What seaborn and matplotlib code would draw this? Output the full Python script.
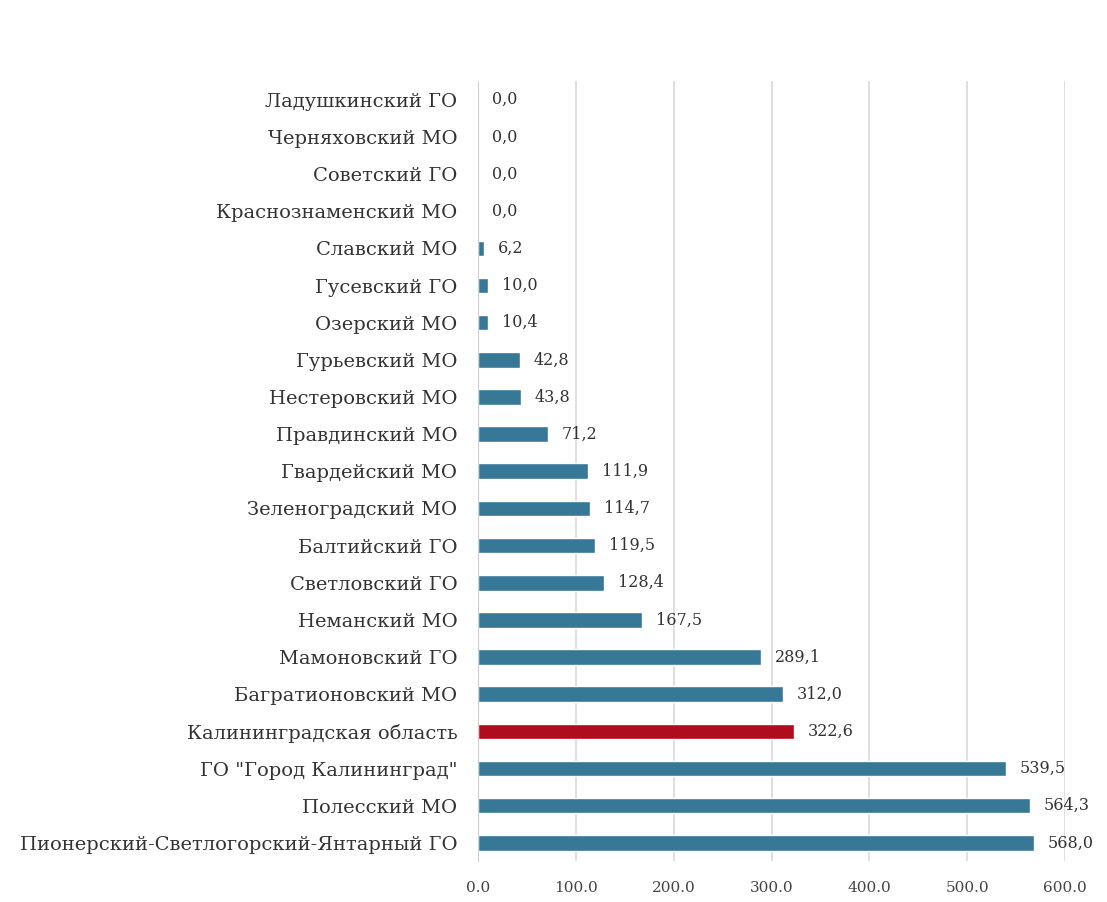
import matplotlib
matplotlib.use("Agg")
import matplotlib.pyplot as plt
import seaborn as sns
import pandas as pd

# Municipalities, listed top to bottom as drawn
districts = [
    "Ладушкинский ГО",
    "Черняховский МО",
    "Советский ГО",
    "Краснознаменский МО",
    "Славский МО",
    "Гусевский ГО",
    "Озерский МО",
    "Гурьевский МО",
    "Нестеровский МО",
    "Правдинский МО",
    "Гвардейский МО",
    "Зеленоградский МО",
    "Балтийский ГО",
    "Светловский ГО",
    "Неманский МО",
    "Мамоновский ГО",
    "Багратионовский МО",
    "Калининградская область",
    "ГО \"Город Калининград\"",
    "Полесский МО",
    "Пионерский-Светлогорский-Янтарный ГО",
]
values = [0.0, 0.0, 0.0, 0.0, 6.2, 10.0, 10.4, 42.8, 43.8, 71.2, 111.9, 114.7,
          119.5, 128.4, 167.5, 289.1, 312.0, 322.6, 539.5, 564.3, 568.0]
region_total = "Калининградская область"

x_ticks = [0, 100, 200, 300, 400, 500, 600]

BAR = "#377896"
HIGHLIGHT = "#b00c1e"

sns.set_style("white")
plt.rcParams["font.family"] = ["DejaVu Serif", "Liberation Serif"]

df = pd.DataFrame({"district": districts, "value": values})
palette = {d: (HIGHLIGHT if d == region_total else BAR) for d in districts}

fig = plt.figure(figsize=(11.07, 9.02), dpi=100)
ax = fig.add_axes([0.432, 0.045, 0.530, 0.865])

sns.barplot(data=df, x="value", y="district", hue="district", palette=palette,
            order=districts, hue_order=districts, width=0.42, legend=False,
            saturation=1, ax=ax)

for cont in ax.containers:
    vals = [b.get_width() for b in cont]
    ax.bar_label(cont, labels=[f"{v:.1f}".replace(".", ",") for v in vals],
                 padding=10, fontsize=11.5, color="#333333")

ax.set_xlim(0, 600)
ax.set_xticks(x_ticks)
ax.set_xticklabels([f"{t:.1f}" for t in x_ticks], fontsize=11, color="#444444")
ax.tick_params(axis="y", labelsize=14, labelcolor="#333333", pad=15, length=0)
ax.tick_params(axis="x", pad=14, length=0)
ax.set_xlabel("")
ax.set_ylabel("")
ax.grid(axis="x", color="#d9d9d9", linewidth=1.2)
ax.set_axisbelow(True)
for side in ["top", "right", "bottom"]:
    ax.spines[side].set_visible(False)
ax.spines["left"].set_color("#d0d0d0")
ax.set_ylim(len(districts) - 0.5, -0.5)

fig.savefig("out.png", dpi=100, facecolor="white")
